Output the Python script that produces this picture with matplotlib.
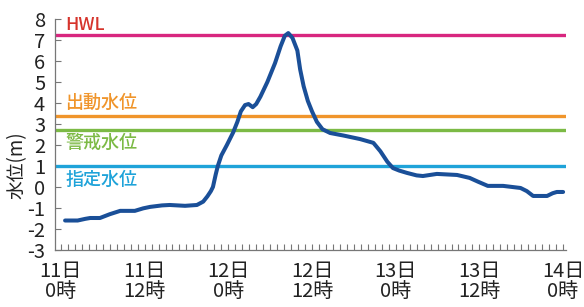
import numpy as np
import matplotlib
matplotlib.use("Agg")
import matplotlib.pyplot as plt
from matplotlib.ticker import MultipleLocator

plt.rcParams['font.family'] = ['Noto Sans CJK JP', 'DejaVu Sans']
plt.rcParams['axes.unicode_minus'] = False

############ data ##################
# hours from 11日0時
hours = [0.6, 2.4, 3.5, 4.2, 5.6, 7.0, 8.5, 10.6, 11.8, 12.8, 14.5, 15.6,
         17.8, 19.5, 20.4, 21.0, 21.5, 21.8, 22.2, 22.5, 23.0, 23.8, 24.7,
         25.3, 25.8, 26.4, 26.9, 27.5, 28.0, 28.6, 29.6, 30.7, 31.5, 32.1,
         32.6, 33.2, 33.9, 34.3, 34.8, 35.4, 36.0, 36.7, 37.5, 38.6, 40.5,
         42.9, 44.8, 45.8, 46.8, 47.6, 48.5, 49.6, 51.0, 51.9, 53.9, 56.8,
         58.6, 59.8, 61.2, 63.4, 65.9, 66.8, 67.7, 69.7, 70.5, 71.1, 72.0]
level = [-1.6, -1.6, -1.52, -1.48, -1.48, -1.3, -1.14, -1.14, -1.02, -0.95,
         -0.88, -0.86, -0.9, -0.86, -0.7, -0.45, -0.2, 0.0, 0.6, 1.0, 1.5,
         2.0, 2.6, 3.1, 3.6, 3.9, 3.95, 3.8, 3.95, 4.3, 5.0, 5.9, 6.7, 7.2,
         7.33, 7.1, 6.5, 5.6, 4.8, 4.1, 3.6, 3.1, 2.75, 2.57, 2.45, 2.28,
         2.1, 1.7, 1.2, 0.9, 0.78, 0.67, 0.55, 0.52, 0.62, 0.57, 0.43, 0.25,
         0.05, 0.05, -0.05, -0.2, -0.43, -0.43, -0.3, -0.24, -0.24]

thr_names = ['HWL', '出動水位', '警戒水位', '指定水位']
thr_values = [7.22, 3.4, 2.7, 1.0]
thr_colors = ['#d8267f', '#f0952b', '#7cba45', '#1fa3d9']
thr_text_colors = ['#d6342c', '#f0952b', '#7cba45', '#1fa3d9']
thr_text_y = [7.3, 4.0, 2.1, 0.33]
thr_text_va = ['bottom', 'center', 'center', 'center']

xtick_pos = [0, 12, 24, 36, 48, 60, 72]
xtick_labels = ['11日\n0時', '11日\n12時', '12日\n0時', '12日\n12時',
                '13日\n0時', '13日\n12時', '14日\n0時']

############ plot ##################
fig = plt.figure(figsize=(5.84, 3.07), dpi=100)
ax = fig.add_axes([0.094, 0.186, 0.875, 0.752])

for v, c in zip(thr_values, thr_colors):
    ax.axhline(v, color=c, lw=2.4, zorder=2)
for name, ty, c, va in zip(thr_names, thr_text_y, thr_text_colors, thr_text_va):
    ax.text(0.6, ty, name, color=c, fontsize=13, va=va, ha='left',
            fontweight='medium')

ax.plot(hours, level, color='#1a4f98', lw=2.9, zorder=3,
        solid_joinstyle='round', solid_capstyle='round')

ax.set_xlim(-0.86, 72.4)
ax.set_ylim(-3, 8)
ax.set_yticks(range(-3, 9))
ax.set_xticks(xtick_pos)
ax.set_xticklabels(xtick_labels, linespacing=0.95)
ax.xaxis.set_minor_locator(MultipleLocator(1))

for s in ['top', 'right']:
    ax.spines[s].set_visible(False)
for s in ['left', 'bottom']:
    ax.spines[s].set_color('#777777')
    ax.spines[s].set_linewidth(0.9)

ax.tick_params(axis='both', which='both', direction='in', length=4,
               width=0.8, color='#777777', labelsize=14.5, labelcolor='#222222')
ax.tick_params(axis='x', which='major', pad=8)
ax.tick_params(axis='y', which='major', pad=7)

fig.text(17 / 584, 1 - 165 / 307, '水位(m)', rotation=90, fontsize=13.5,
         ha='center', va='center', color='#222222')

plt.savefig('out.png', dpi=100)
